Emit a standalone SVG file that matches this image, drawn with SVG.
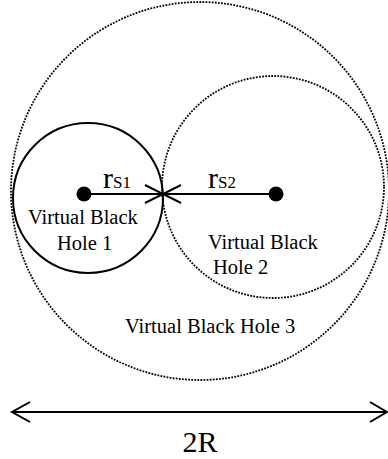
<svg xmlns="http://www.w3.org/2000/svg" width="388" height="459" viewBox="0 0 388 459">
<style>
.dot{fill:none;stroke:#000;stroke-width:1.8;stroke-dasharray:1.8 1.3}
.solid{fill:none;stroke:#000;stroke-width:2}
.ln{fill:none;stroke:#000;stroke-width:2}
.t{font-family:"Liberation Serif","Times New Roman",serif;font-size:20.5px;fill:#000}
.r{font-family:"Liberation Serif","Times New Roman",serif;font-size:30px;fill:#000}
.s{font-family:"Liberation Serif","Times New Roman",serif;font-size:17px;fill:#000}
</style>
<rect width="388" height="459" fill="#fff"/>
<g id="vbh3">
<circle class="dot" cx="200" cy="191" r="189"/>
<text class="t" x="125" y="333">Virtual Black Hole 3</text>
</g>
<g id="vbh2">
<circle class="dot" cx="273" cy="187" r="111"/>
<circle cx="276" cy="194" r="7.5" fill="#000"/>
<text class="t" x="208" y="249">Virtual Black</text>
<text class="t" x="213" y="274">Hole 2</text>
</g>
<g id="vbh1">
<circle class="solid" cx="88" cy="198" r="75"/>
<circle cx="84" cy="194" r="7.5" fill="#000"/>
<text class="t" x="28" y="224">Virtual Black</text>
<text class="t" x="57" y="250">Hole 1</text>
</g>
<g id="connectors">
<line class="ln" x1="84" y1="194" x2="276" y2="194"/>
<polyline class="ln" points="145,185 163,194 145,203"/>
<polyline class="ln" points="181,185 163,194 181,203"/>
<line class="ln" x1="12" y1="412" x2="387" y2="412"/>
<polyline class="ln" points="30,402 12,412 30,422"/>
<polyline class="ln" points="370,402 387,412 370,422"/>
</g>
<g id="labels">
<text x="103" y="188"><tspan class="r">r</tspan><tspan class="s">S1</tspan></text>
<text x="208" y="188"><tspan class="r">r</tspan><tspan class="s">S2</tspan></text>
<text class="t" x="200" y="452" text-anchor="middle" style="font-size:30px">2R</text>
</g>
</svg>
